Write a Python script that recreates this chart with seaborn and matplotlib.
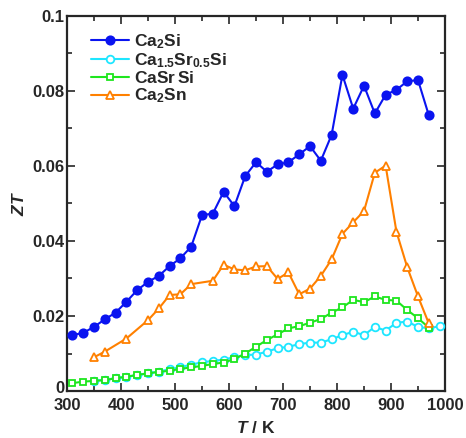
import matplotlib
matplotlib.use("Agg")
import matplotlib.pyplot as plt
import matplotlib.transforms as mtransforms
import seaborn as sns
import pandas as pd
from matplotlib.ticker import MultipleLocator

# ---- data ----
T_ca2si = [310, 330, 350, 370, 390, 410, 430, 450, 470, 490, 510, 530, 550, 570, 590, 610, 630,
           650, 670, 690, 710, 730, 750, 770, 790, 810, 830, 850, 870, 890, 910, 930, 950, 970]
ZT_ca2si = [0.0149, 0.0155, 0.0171, 0.0191, 0.0209, 0.0238, 0.0269, 0.0291, 0.0307, 0.0333,
            0.0354, 0.0385, 0.0469, 0.0473, 0.0531, 0.0493, 0.0573, 0.0610, 0.0585, 0.0604,
            0.0610, 0.0631, 0.0653, 0.0614, 0.0683, 0.0843, 0.0753, 0.0814, 0.0740, 0.0790,
            0.0803, 0.0826, 0.0829, 0.0735]

T_casr = [350, 370, 390, 410, 430, 450, 470, 490, 510, 530, 550, 570, 590, 610, 630, 650, 670,
          690, 710, 730, 750, 770, 790, 810, 830, 850, 870, 890, 910, 930, 950, 970, 990]
ZT_casr = [0.0027, 0.0030, 0.0034, 0.0038, 0.0042, 0.0047, 0.0052, 0.0058, 0.0064, 0.0070,
           0.0077, 0.0080, 0.0084, 0.0090, 0.0096, 0.0097, 0.0105, 0.0114, 0.0118, 0.0125,
           0.0129, 0.0129, 0.0138, 0.0149, 0.0158, 0.0149, 0.0171, 0.0161, 0.0182, 0.0185,
           0.0171, 0.0167, 0.0173]

T_casrsi = [310, 330, 350, 370, 390, 410, 430, 450, 470, 490, 510, 530, 550, 570, 590, 610, 630,
            650, 670, 690, 710, 730, 750, 770, 790, 810, 830, 850, 870, 890, 910, 930, 950, 970]
ZT_casrsi = [0.0021, 0.0025, 0.0027, 0.0029, 0.0034, 0.0038, 0.0043, 0.0047, 0.0051, 0.0054,
             0.0059, 0.0063, 0.0067, 0.0072, 0.0076, 0.0085, 0.0100, 0.0118, 0.0136, 0.0151,
             0.0167, 0.0173, 0.0182, 0.0192, 0.0209, 0.0223, 0.0243, 0.0237, 0.0252, 0.0243,
             0.0241, 0.0216, 0.0194, 0.0169]

T_ca2sn = [350, 370, 410, 450, 470, 490, 510, 530, 570, 590, 610, 630, 650, 670, 690, 710, 730,
           750, 770, 790, 810, 830, 850, 870, 890, 910, 930, 950, 970]
ZT_ca2sn = [0.0090, 0.0105, 0.0140, 0.0189, 0.0220, 0.0256, 0.0258, 0.0285, 0.0294, 0.0337,
            0.0324, 0.0322, 0.0332, 0.0333, 0.0299, 0.0316, 0.0258, 0.0273, 0.0307, 0.0351,
            0.0419, 0.0450, 0.0480, 0.0582, 0.0601, 0.0425, 0.0330, 0.0252, 0.0180]

labels = [r"$\mathregular{Ca_2Si}$", r"$\mathregular{Ca_{1.5}Sr_{0.5}Si}$",
          r"$\mathregular{CaSr\,Si}$", r"$\mathregular{Ca_2Sn}$"]
colors = ["#0a14f0", "#1ee6ff", "#1ee61e", "#ff8000"]
markers = ["o", "o", "s", "^"]
filled = [True, False, False, False]

sns.set_style("ticks")
plt.rcParams["font.family"] = ["Liberation Sans", "DejaVu Sans"]
plt.rcParams["font.weight"] = "bold"
plt.rcParams["mathtext.fontset"] = "custom"
plt.rcParams["mathtext.rm"] = "Liberation Sans:bold"
plt.rcParams["mathtext.it"] = "Liberation Sans:italic:bold"
plt.rcParams["mathtext.bf"] = "Liberation Sans:bold"

fig = plt.figure(figsize=(4.66, 4.38), dpi=100)
ax = fig.add_axes([0.1438, 0.1073, 0.8112, 0.8562])

series = [(T_ca2si, ZT_ca2si), (T_casr, ZT_casr), (T_casrsi, ZT_casrsi), (T_ca2sn, ZT_ca2sn)]
for (t, z), lab, c, m, f in zip(series, labels, colors, markers, filled):
    df = pd.DataFrame({"T": t, "ZT": z})
    sns.lineplot(data=df, x="T", y="ZT", ax=ax, color=c, marker=m, label=lab,
                 linewidth=1.5, markersize=6 if m == "o" and f else (5.5 if m != "s" else 5),
                 markerfacecolor=c if f else "white", markeredgecolor=c,
                 markeredgewidth=1.3, zorder=3 if lab != labels[3] else 4)

ax.set_xlim(300, 1000)
ax.set_ylim(0, 0.1)
ax.xaxis.set_major_locator(MultipleLocator(100))
ax.xaxis.set_minor_locator(MultipleLocator(50))
ax.yaxis.set_major_locator(MultipleLocator(0.02))
ax.yaxis.set_minor_locator(MultipleLocator(0.01))
ax.set_yticks([0, 0.02, 0.04, 0.06, 0.08, 0.1])
ax.set_yticklabels(["0", "0.02", "0.04", "0.06", "0.08", "0.1"])
ax.tick_params(which="both", direction="in", top=True, right=True, width=1.2,
               labelsize=12)
ax.tick_params(axis="x", pad=5)
ax.tick_params(axis="y", pad=2)
ax.tick_params(which="major", length=6)
ax.tick_params(which="minor", length=3.5)
for lab in ax.get_xticklabels() + ax.get_yticklabels():
    lab.set_fontweight("bold")
for s in ax.spines.values():
    s.set_linewidth(1.6)
    s.set_visible(True)

# nudge the y "0" label up a touch so it does not collide with "300"
zero_lab = ax.yaxis.get_major_ticks()[0].label1
zero_lab.set_transform(zero_lab.get_transform() +
                       mtransforms.ScaledTranslation(0, 3 / 72, fig.dpi_scale_trans))

ax.set_xlabel(r"$\mathit{T}$ / K", fontsize=12.5, fontweight="bold", labelpad=5)
ax.set_ylabel(r"$\mathit{ZT}$", fontsize=12.5, fontweight="bold", labelpad=4)

leg = ax.legend(loc="upper left", frameon=False, fontsize=12.5, handlelength=2.2,
                handletextpad=0.3, labelspacing=0.02, borderaxespad=0.0,
                bbox_to_anchor=(0.045, 0.975))

fig.savefig("out.png", dpi=100)
